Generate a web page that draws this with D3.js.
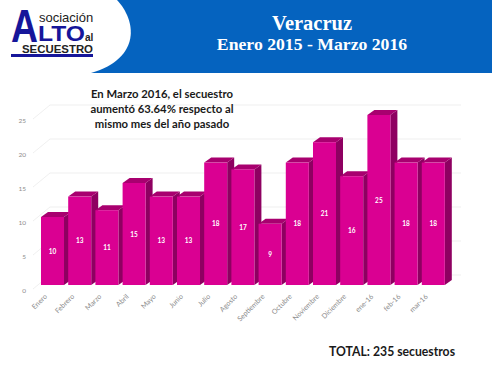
<!DOCTYPE html>
<html>
<head>
<meta charset="utf-8">
<script src="https://cdn.jsdelivr.net/npm/d3@7"></script>
<style>
  html, body { margin: 0; padding: 0; background: #fff; }
  svg { display: block; }
</style>
</head>
<body>
<div id="container"></div>
<script>
/* DATA */
const categories = ["Enero", "Febrero", "Marzo", "Abril", "Mayo", "Junio", "Julio", "Agosto",
  "Septiembre", "Octubre", "Noviembre", "Diciembre", "ene-16", "feb-16", "mar-16"];
const values = [10, 13, 11, 15, 13, 13, 18, 17, 9, 18, 21, 16, 25, 18, 18];
const yTicks = [0, 5, 10, 15, 20, 25];
const titleLines = ["Veracruz", "Enero 2015 - Marzo 2016"];
const noteLines = ["En Marzo 2016, el secuestro", "aumentó 63.64% respecto al", "mismo mes del año pasado"];
const totalText = "TOTAL: 235 secuestros";

/* CONSTANTS AND GLOBALS */
const width = 492,
  height = 369,
  depthX = 7,
  depthY = 5;

const svg = d3.select("#container")
  .append("svg")
  .attr("width", width)
  .attr("height", height)
  .attr("viewBox", `0 0 ${width} ${height}`);

/* SCALES */
const xScale = d3.scaleBand()
  .domain(categories)
  .range([41, 444.8])
  .paddingInner(0.154)
  .paddingOuter(0);

const yScale = d3.scaleLinear()
  .domain([0, 25])
  .range([285, 115]);

/* HEADER */
svg.append("rect")
  .attr("width", width)
  .attr("height", 73)
  .attr("fill", "#0563bf");

svg.append("path")
  .attr("d", "M117,0 C136,20 142,58 91,73 L0,73 L0,0 Z")
  .attr("fill", "#fff");

const title = svg.append("g")
  .attr("font-family", "'Liberation Serif', serif")
  .attr("font-weight", "bold")
  .attr("fill", "#fff")
  .attr("text-anchor", "middle");

title.append("text").attr("x", 312).attr("y", 30).attr("font-size", 20.5).text(titleLines[0]);
title.append("text").attr("x", 312).attr("y", 50).attr("font-size", 17.7).text(titleLines[1]);

/* LOGO */
const logo = svg.append("g").attr("font-family", "'Liberation Sans', sans-serif");
logo.append("text").attr("x", 11).attr("y", 42).attr("font-size", 46).attr("font-weight", "bold").attr("fill", "#16169a")
  .attr("textLength", 27).attr("lengthAdjust", "spacingAndGlyphs").text("A");
logo.append("text").attr("x", 39).attr("y", 22).attr("font-size", 13).attr("fill", "#222").text("sociación");
logo.append("text").attr("x", 38).attr("y", 41).attr("font-size", 22).attr("font-weight", "bold").attr("fill", "#16169a")
  .attr("textLength", 47).attr("lengthAdjust", "spacingAndGlyphs").text("LTO");
logo.append("text").attr("x", 85).attr("y", 41).attr("font-size", 10).attr("font-weight", "bold").attr("fill", "#222").text("al");
logo.append("text").attr("x", 22).attr("y", 52.5).attr("font-size", 11).attr("font-weight", "bold").attr("fill", "#222")
  .attr("textLength", 71).attr("lengthAdjust", "spacingAndGlyphs").text("SECUESTRO");
logo.append("rect").attr("x", 11).attr("y", 54).attr("width", 82).attr("height", 3).attr("fill", "#16169a");

/* GRID */
const grid = svg.append("g")
  .attr("fill", "none")
  .attr("stroke", "#e8e8e8")
  .attr("stroke-width", 0.7);

grid.selectAll("path")
  .data(yTicks)
  .join("path")
  .attr("d", d => `M33,${yScale(d) + 4} L50,${yScale(d) - 10} H461`);

/* AXES */
const yAxis = d3.axisLeft(yScale)
  .tickValues(yTicks)
  .tickSize(0)
  .tickPadding(0);

svg.append("g")
  .attr("transform", "translate(26,5)")
  .call(yAxis)
  .call(g => g.select(".domain").remove())
  .call(g => g.selectAll("text")
    .attr("font-family", "Lato, sans-serif")
    .attr("font-size", 6.5)
    .attr("fill", "#8c8c8c"));

const xAxis = d3.axisBottom(xScale).tickSize(0).tickPadding(0);

svg.append("g")
  .attr("transform", "translate(-5,283)")
  .call(xAxis)
  .call(g => g.select(".domain").remove())
  .call(g => g.selectAll("text")
    .attr("font-family", "Lato, sans-serif")
    .attr("font-size", 7)
    .attr("fill", "#8c8c8c")
    .attr("text-anchor", "end")
    .attr("dy", 0)
    .attr("transform", "translate(0,14) rotate(-45)"));

/* BARS */
const bars = svg.selectAll(".bar")
  .data(categories.map((c, i) => ({ category: c, value: values[i] })))
  .join("g")
  .attr("class", "bar");

// side face
bars.append("polygon")
  .attr("fill", "#8e0061")
  .attr("points", d => {
    const x1 = xScale(d.category) + xScale.bandwidth();
    return [[x1, yScale(d.value)], [x1 + depthX, yScale(d.value) - depthY],
      [x1 + depthX, yScale(0) - depthY], [x1, yScale(0)]].join(" ");
  });

// top face
bars.append("polygon")
  .attr("fill", "#a8006f")
  .attr("points", d => {
    const x0 = xScale(d.category), x1 = x0 + xScale.bandwidth(), y = yScale(d.value);
    return [[x0, y], [x0 + depthX, y - depthY], [x1 + depthX, y - depthY], [x1, y]].join(" ");
  });

// front face
bars.append("rect")
  .attr("x", d => xScale(d.category))
  .attr("y", d => yScale(d.value))
  .attr("width", xScale.bandwidth())
  .attr("height", d => yScale(0) - yScale(d.value))
  .attr("fill", "#da0092");

bars.append("text")
  .attr("x", d => xScale(d.category) + xScale.bandwidth() / 2)
  .attr("y", d => (yScale(d.value) + yScale(0)) / 2 + 2.5)
  .attr("text-anchor", "middle")
  .attr("font-family", "Lato, sans-serif")
  .attr("font-weight", "bold")
  .attr("font-size", 6.5)
  .attr("fill", "#fff")
  .text(d => d.value);

/* TEXT NOTES */
svg.append("g")
  .selectAll("text")
  .data(noteLines)
  .join("text")
  .attr("x", 162)
  .attr("y", (d, i) => 98 + i * 15)
  .attr("text-anchor", "middle")
  .attr("font-family", "Lato, sans-serif")
  .attr("font-weight", "bold")
  .attr("font-size", 11.3)
  .attr("fill", "#1a1a1a")
  .text(d => d);

svg.append("text")
  .attr("x", 329)
  .attr("y", 356)
  .attr("font-family", "Lato, sans-serif")
  .attr("font-weight", "bold")
  .attr("font-size", 13)
  .attr("fill", "#1a1a1a")
  .attr("textLength", 126)
  .attr("lengthAdjust", "spacingAndGlyphs")
  .text(totalText);
</script>
</body>
</html>
